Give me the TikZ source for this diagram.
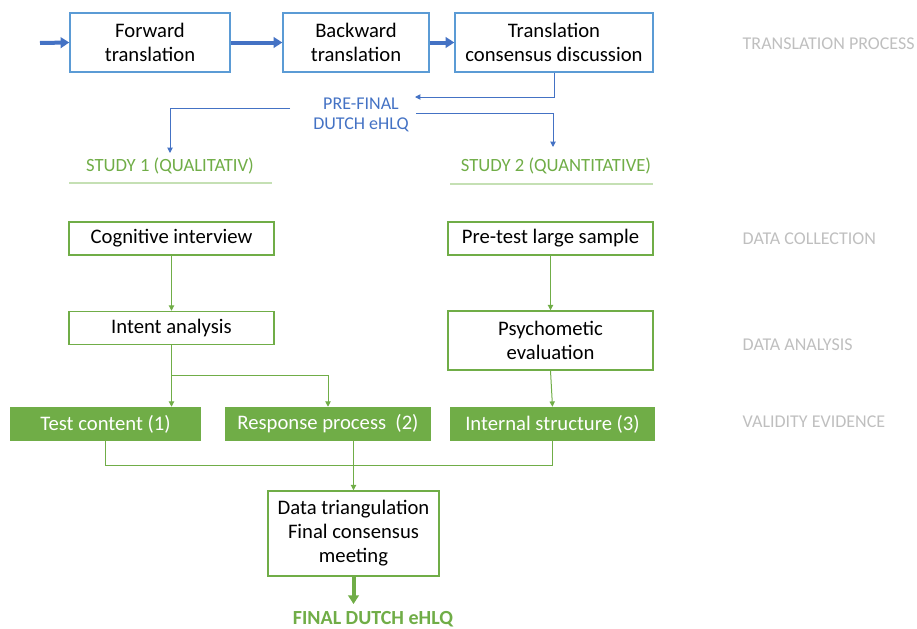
\documentclass[tikz,border=0pt]{standalone}
\usepackage{fontspec}
\setmainfont{Carlito}
\usetikzlibrary{arrows.meta,calc}
\definecolor{boxblue}{HTML}{5B9BD5}
\definecolor{arrblue}{HTML}{4472C4}
\definecolor{effgreen}{HTML}{70AD47}
\definecolor{palegreen}{HTML}{C5E0B4}
\definecolor{lblgrey}{HTML}{BFBFBF}
\begin{document}
\begin{tikzpicture}[x=0.75pt,y=-0.75pt,
    bluebox/.style={draw=boxblue,line width=1.1pt,align=center,inner sep=0pt,minimum height=44.25pt,font=\fontsize{15.5}{18}\selectfont},
    greenbox/.style={draw=effgreen,line width=1.1pt,align=center,inner sep=0pt,font=\fontsize{15.5}{18}\selectfont},
    fillbox/.style={fill=effgreen,text=white,inner sep=0pt,minimum height=25.5pt,font=\fontsize{15.5}{18}\selectfont},
    thickarr/.style={arrblue,line width=3pt,-{Triangle[length=6.5pt,width=8pt]}},
    thinblue/.style={arrblue,line width=0.75pt,-{Triangle[length=4pt,width=4pt]}},
    thingreen/.style={effgreen,line width=0.75pt,-{Triangle[length=4pt,width=4pt]}},
    sidelbl/.style={lblgrey,anchor=west,font=\fontsize{13.5}{16}\selectfont},
    studylbl/.style={effgreen,font=\fontsize{14}{16}\selectfont}]
  \useasboundingbox (0,0) rectangle (917,628);
  % translation process
  \node[bluebox,minimum width=120pt] (fwd) at (150,42.5) {Forward\\translation};
  \node[bluebox,minimum width=109.5pt] (bwd) at (356,42.5) {Backward\\translation};
  \node[bluebox,minimum width=148.5pt] (cons) at (554,42.5) {Translation\\consensus discussion};
  \coordinate (start) at (40,43);
  \draw[thickarr] (start) -- (fwd.west);
  \draw[thickarr] (fwd.east) -- (bwd.west);
  \draw[thickarr] (bwd.east) -- (cons.west);
  \node[arrblue,align=center,font=\fontsize{13.5}{15}\selectfont] (pref) at (361,115) {PRE-FINAL\\DUTCH eHLQ};
  \coordinate (prefin) at (415,97);
  \coordinate (prefl) at (290,108);
  \coordinate (prefr) at (416,113);
  \draw[thinblue] (cons.south) |- (prefin);
  % studies
  \node[studylbl] (st1) at (170,166) {STUDY 1 (QUALITATIV)};
  \node[studylbl] (st2) at (556,166) {STUDY 2 (QUANTITATIVE)};
  \draw[thinblue] (prefl) -| (st1.north |- 0,153);
  \draw[thinblue] (prefr) -| (553,147);
  \draw[palegreen,line width=1pt] (69,183) -- (272,183);
  \draw[palegreen,line width=1pt] (450,184) -- (653,184);
  % data collection / analysis
  \node[greenbox,minimum width=153.75pt,minimum height=24.75pt] (cog) at (171.5,238.5) {Cognitive interview};
  \node[greenbox,minimum width=153.75pt,minimum height=24.75pt] (pre) at (550.5,238.5) {Pre-test large sample};
  \node[greenbox,minimum width=153.75pt,minimum height=24.75pt] (intent) at (171.5,328) {Intent analysis};
  \node[greenbox,minimum width=153.75pt,minimum height=44.25pt] (psy) at (550.5,340.5) {Psychometic\\evaluation};
  \draw[thingreen] (cog.south) -- (intent.north);
  \draw[thingreen] (pre.south) -- (psy.north);
  % validity evidence
  \node[fillbox,minimum width=143.25pt] (tc) at (105.5,424) {Test content (1)};
  \node[fillbox,minimum width=154.5pt] (rp) at (328,424) {Response process~~(2)};
  \node[fillbox,minimum width=153.75pt] (is) at (552.5,424) {Internal structure (3)};
  \draw[thingreen] (intent.south) -- (intent.south |- tc.north);
  \draw[thingreen] ($(intent.south)+(0,30)$) -| (rp.north);
  \draw[thingreen] (psy.south) -- (is.north);
  % triangulation
  \node[greenbox,minimum width=128.25pt,minimum height=63.75pt] (tri) at (353.5,533.5) {Data triangulation\\Final consensus\\meeting};
  \draw[effgreen,line width=0.75pt] (tc.south) -- ++(0,24) -| (is.south);
  \draw[thingreen] (tri.north |- rp.south) -- (tri.north);
  \coordinate (finend) at (353.5,604);
  \draw[effgreen,line width=3pt,-{Triangle[length=6.5pt,width=8pt]}] (tri.south) -- (finend);
  \node[effgreen,font=\fontsize{15}{16}\selectfont\bfseries] (fin) at (373,619) {FINAL DUTCH eHLQ};
  % side labels
  \node[sidelbl] (lbltp) at (738,44) {TRANSLATION PROCESS};
  \node[sidelbl] (lbldc) at (738,239) {DATA COLLECTION};
  \node[sidelbl] (lblda) at (738,345) {DATA ANALYSIS};
  \node[sidelbl] (lblve) at (738,422) {VALIDITY EVIDENCE};
\end{tikzpicture}
\end{document}
